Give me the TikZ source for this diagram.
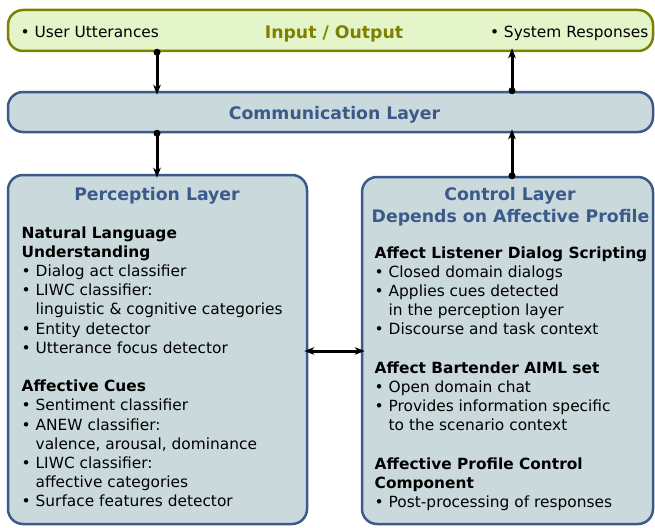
\documentclass[tikz,border=0pt]{standalone}
\usepackage{fontspec}
\setmainfont{DejaVu Sans}
\usetikzlibrary{arrows.meta}
\definecolor{olivedk}{HTML}{7F7F00}
\definecolor{greenfill}{HTML}{E4F5C9}
\definecolor{bluedk}{HTML}{3B5A8A}
\definecolor{bluefill}{HTML}{CADADC}
\newcommand{\bul}{•\ }
\newcommand{\ind}{\phantom{•\ }}
\tikzset{
 iobox/.style={draw=olivedk, fill=greenfill, line width=2.5pt, rounded corners=15pt, inner sep=0},
 layerbox/.style={draw=bluedk, fill=bluefill, line width=2.5pt, rounded corners=15pt, inner sep=0},
 title/.style={font=\fontsize{17.3}{20}\selectfont\bfseries, text=bluedk, inner sep=0, anchor=base},
 body/.style={font=\fontsize{15.4}{19.2}\selectfont, inner sep=0, anchor=base west},
 tipx/.tip={Stealth[length=10pt,width=7.5pt,inset=3pt]},
 conn/.style={line width=3pt, -tipx, shorten >=-4pt},
 dconn/.style={line width=3pt, tipx-tipx, shorten >=-4pt, shorten <=-4pt}
}
\begin{document}
\begin{tikzpicture}[x=1pt,y=-1pt]
\useasboundingbox (0,0) rectangle (655,527);
% boxes
\node[iobox, minimum width=645pt, minimum height=41pt] (io) at (330.5,30.5) {};
\node[layerbox, minimum width=645pt, minimum height=40pt] (comm) at (330.5,112) {};
\node[layerbox, minimum width=299pt, minimum height=349pt] (perc) at (157.5,349.5) {};
\node[layerbox, minimum width=291pt, minimum height=347pt] (ctrl) at (507.5,350.5) {};
% top texts
\node[body] (uu) at (20.5,37.5) {\bul User Utterances};
\node[body, anchor=base east] (sr) at (648.5,37.5) {\bul System Responses};
\node[title, text=olivedk] (iot) at (334,38) {Input / Output};
\node[title] (commt) at (334.5,119) {Communication Layer};
% perception
\node[title] (perct) at (157,200) {Perception Layer};
\node[body] (percb) at (21.5,238) {\parbox[t]{285pt}{\raggedright
\textbf{Natural Language}\\
\textbf{Understanding}\\
\bul Dialog act classifier\\
\bul LIWC classifier:\\
\ind linguistic \& cognitive categories\\
\bul Entity detector\\
\bul Utterance focus detector\\[19.2pt]
\textbf{Affective Cues}\\
\bul Sentiment classifier\\
\bul ANEW classifier:\\
\ind valence, arousal, dominance\\
\bul LIWC classifier:\\
\ind affective categories\\
\bul Surface features detector}};
% control
\node[title] (ctrlt) at (510,200) {Control Layer};
\node[title] (ctrls) at (510.5,222) {Depends on Affective Profile};
\node[body] (ctrlb) at (374.5,258) {\parbox[t]{280pt}{\raggedright
\textbf{Affect Listener Dialog Scripting}\\
\bul Closed domain dialogs\\
\bul Applies cues detected\\
\ind in the perception layer\\
\bul Discourse and task context\\[19.2pt]
\textbf{Affect Bartender AIML set}\\
\bul Open domain chat\\
\bul Provides information specific\\
\ind to the scenario context\\[19.2pt]
\textbf{Affective Profile Control}\\
\textbf{Component}\\
\bul Post-processing of responses}};
% connectors
\coordinate (L) at (157,0);
\coordinate (R) at (512,0);
\coordinate (M) at (0,351);
\draw[conn] (io.south -| L) -- (comm.north -| L);
\fill (io.south -| L) circle (3.5pt);
\draw[conn] (comm.north -| R) -- (io.south -| R);
\fill (comm.north -| R) circle (3.5pt);
\draw[conn] (comm.south -| L) -- (perc.north -| L);
\fill (comm.south -| L) circle (3.5pt);
\draw[conn] (ctrl.north -| R) -- (comm.south -| R);
\fill (ctrl.north -| R) circle (3.5pt);
\draw[dconn] (perc.east |- M) -- (ctrl.west |- M);
\end{tikzpicture}
\end{document}
